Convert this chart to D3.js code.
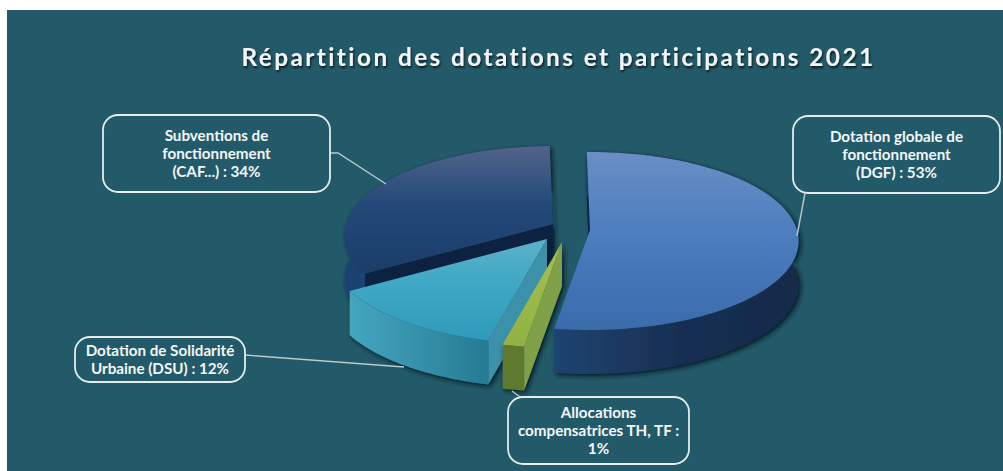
<!DOCTYPE html>
<html><head><meta charset="utf-8">
<script src="https://cdn.jsdelivr.net/npm/d3@7/dist/d3.min.js"></script>
<style>html,body{margin:0;padding:0;background:#fff;overflow:hidden}svg{display:block}</style>
</head><body>
<script>
const title = "Répartition des dotations et participations 2021";
const categories = ["Dotation globale de fonctionnement (DGF)", "Allocations compensatrices TH, TF", "Dotation de Solidarité Urbaine (DSU)", "Subventions de fonctionnement (CAF...)"];
const values = [52.7, 1.4, 12.3, 33.6];
const labelLines = [
  ["Dotation globale de", "fonctionnement", "(DGF) : 53%"],
  ["Allocations", "compensatrices TH, TF :", "1%"],
  ["Dotation de Solidarité", "Urbaine (DSU) : 12%"],
  ["Subventions de", "fonctionnement", "(CAF...) : 34%"]
];
// layout
const W = 1003, H = 471;
const startDeg = -1;
const apex = [[590,230],[562,242],[547,239],[553,224]];
const sizeK = [1, 1.06, 1.05, 1];
const depth = 44;
const persp = 0.1236;
const boxes = [[793,116,207,77],[508,397,181,67],[75,337,170,45],[103,115,227,77]];
const leaders = [
  [[805,193],[797,236]],
  [[512,391],[520,397]],
  [[245,355],[404,367]],
  [[330,153],[338,153],[386,184]]
];
const topStops = [
  [[0,"#6a8fc6"],[.5,"#4a7cbe"],[1,"#3a6bab"]],
  [[0,"#a4c04e"],[1,"#93b044"]],
  [[0,"#5db0c8"],[.4,"#40a9c6"],[1,"#309abb"]],
  [[0,"#52648a"],[.45,"#24497a"],[1,"#1a3d69"]]
];
const wallStops = [
  [[0,"#1f4470"],[.5,"#182f52"],[1,"#172a4a"]],
  [[0,"#5e7a2e"],[1,"#5e7a2e"]],
  [[0,"#45a6bf"],[1,"#267a93"]],
  [[0,"#1f4272"],[1,"#1c3c68"]]
];
const innerFill = ["#0b2240", "#80a04a", "#3b90aa", "#0b2240"];

const svg = d3.select("body").append("svg").attr("width",W).attr("height",H);
const defs = svg.append("defs");
const blur = defs.append("filter").attr("id","sh").attr("x","-10%").attr("y","-10%").attr("width","125%").attr("height","125%");
blur.append("feDropShadow").attr("dx",2).attr("dy",2).attr("stdDeviation",2.5).attr("flood-color","#00151f").attr("flood-opacity",.95);
const tsh = defs.append("filter").attr("id","ts").attr("x","-5%").attr("y","-30%").attr("width","110%").attr("height","170%");
tsh.append("feDropShadow").attr("dx",1).attr("dy",2).attr("stdDeviation",1.2).attr("flood-color","#000").attr("flood-opacity",.7);

function grad(id, stops, vertical){
  const g = defs.append("linearGradient").attr("id",id).attr("gradientUnits","objectBoundingBox")
    .attr("x1",0).attr("y1",0).attr("x2",vertical?0:1).attr("y2",vertical?1:0);
  stops.forEach(s=>g.append("stop").attr("offset",s[0]).attr("stop-color",s[1]));
}
topStops.forEach((s,i)=>grad("top"+i,s,true));
wallStops.forEach((s,i)=>grad("wall"+i,s,false));

svg.append("rect").attr("x",7).attr("y",10).attr("width",W-7).attr("height",H-10).attr("fill","#235a69");

svg.append("text").attr("x",558.5).attr("y",66).attr("text-anchor","middle")
  .attr("font-family","Lato").attr("font-weight",700).attr("font-size",24.3).attr("letter-spacing",2.45)
  .attr("fill","#f3f5f5").attr("filter","url(#ts)").text(title);

// pie layout through d3, clockwise from the top
const pie = d3.pie().value(d=>d).sort(null).startAngle(startDeg*Math.PI/180).endAngle((360+startDeg)*Math.PI/180);
const arcs = pie(values);

// screen scales for the tilted plate
const sx = d3.scaleLinear().domain([-1,1]).range([-207,207]);
const sz = d3.scaleLinear().domain([-1,1]).range([87.6,-87.6]);
function project(i, a, r){
  const x = r*Math.sin(a), z = r*Math.cos(a), w = 1 + persp*z, k = sizeK[i];
  return [apex[i][0] + k*sx(x/w), apex[i][1] + k*sz(z/w)];
}
const line = d3.line();
function rim(i,d){
  const n = Math.max(6, Math.ceil((d.endAngle-d.startAngle)*60));
  return d3.range(n+1).map(j=>project(i, d.startAngle+(d.endAngle-d.startAngle)*j/n, 1));
}
const down = p=>[p[0],p[1]+depth];

// back to front: subventions, DSU, allocations, DGF
const order = [3,2,1,0];
const groups = svg.selectAll("g.slice").data(order.map(i=>({i,d:arcs[i]}))).join("g").attr("class","slice");
groups.each(function({i,d}){
  const slice = d3.select(this), R = rim(i,d), A = apex[i];
  const g = slice.append("g").attr("filter","url(#sh)");   // only the walls cast a shadow
  const P0 = R[0], P1 = R[R.length-1];
  const wall = line(R.concat(R.map(down).reverse()))+"Z";
  const face = p=>line([A,p,down(p),down(A)])+"Z";
  if(i===0){
    g.append("path").attr("d",face(P0)).attr("fill",innerFill[0]);
    g.append("path").attr("d",wall).attr("fill","url(#wall0)");
  } else if(i===3){
    g.append("path").attr("d",wall).attr("fill","url(#wall3)");
    g.append("path").attr("d",face(P0)).attr("fill",innerFill[3]);
    g.append("path").attr("d",face(P1)).attr("fill",innerFill[3]);
  } else {
    g.append("path").attr("d",face(P0)).attr("fill",innerFill[i]);
    g.append("path").attr("d",wall).attr("fill",`url(#wall${i})`);
  }
  slice.append("path").attr("d",line([A].concat(R))+"Z").attr("fill",`url(#top${i})`);
});

// leader lines
svg.selectAll("path.leader").data(leaders).join("path").attr("class","leader")
  .attr("d",d=>line(d)).attr("fill","none").attr("stroke","#b9c9cc").attr("stroke-width",1.4);

// label boxes
const lab = svg.selectAll("g.label").data(labelLines.map((l,i)=>({l,b:boxes[i]}))).join("g").attr("class","label");
lab.append("rect").attr("x",d=>d.b[0]).attr("y",d=>d.b[1]).attr("width",d=>d.b[2]).attr("height",d=>d.b[3])
  .attr("rx",15).attr("fill","#235a69").attr("stroke","#e4ecec").attr("stroke-width",1.8);
lab.each(function(d){
  const n = d.l.length, cy = d.b[1]+d.b[3]/2;
  d3.select(this).selectAll("text").data(d.l).join("text")
    .attr("x",d.b[0]+d.b[2]/2).attr("y",(t,j)=>cy+(j-(n-1)/2)*18+5)
    .attr("text-anchor","middle").attr("font-family","Lato").attr("font-weight",700).attr("font-size",15.2)
    .attr("fill","#f4f6f6").text(t=>t);
});
</script>
</body></html>
